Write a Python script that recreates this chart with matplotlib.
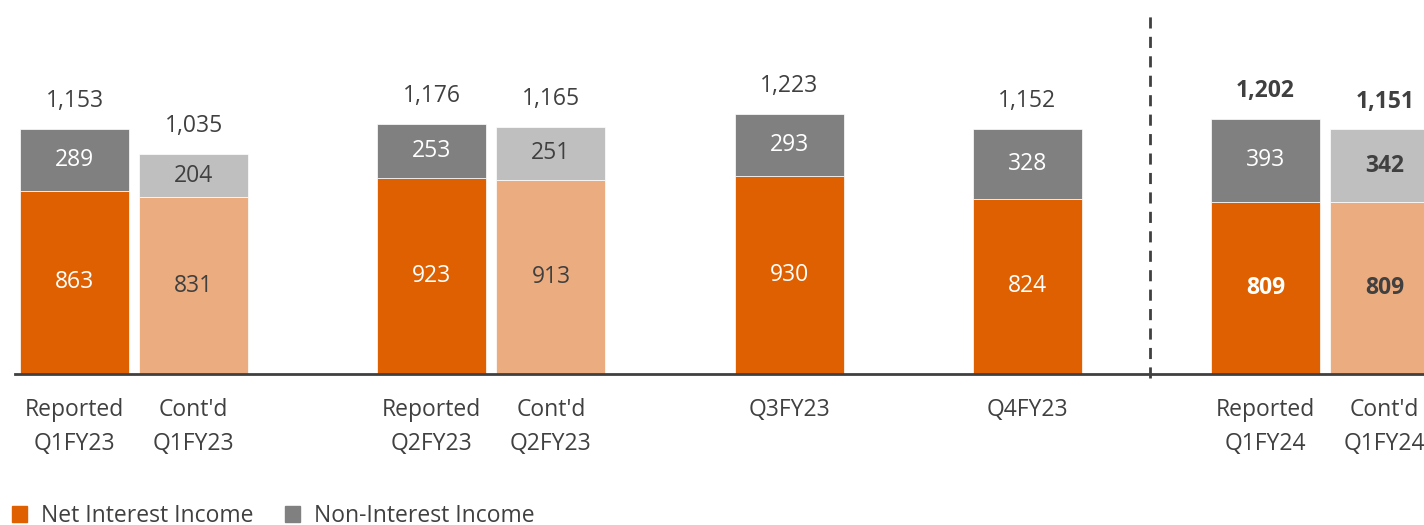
import matplotlib.pyplot as plt
from matplotlib.patches import Patch

plt.rcParams['font.family'] = ['Open Sans', 'DejaVu Sans']

categories = ["Reported\nQ1FY23", "Cont'd\nQ1FY23", "Reported\nQ2FY23", "Cont'd\nQ2FY23",
              "Q3FY23", "Q4FY23", "Reported\nQ1FY24", "Cont'd\nQ1FY24"]
positions = [0, 1, 3, 4, 6, 8, 10, 11]
net_interest = [863, 831, 923, 913, 930, 824, 809, 809]
non_interest = [289, 204, 253, 251, 293, 328, 393, 342]
totals = [1153, 1035, 1176, 1165, 1223, 1152, 1202, 1151]
continued = [False, True, False, True, False, False, False, True]
bold_nii = [False, False, False, False, False, False, True, True]
bold_noi = [False, False, False, False, False, False, False, True]
bold_tot = [False, False, False, False, False, False, True, True]

ORANGE = "#DE6000"
ORANGE_LT = "#EBAD80"
GRAY = "#808080"
GRAY_LT = "#BFBFBF"
TXT = "#404040"

fig = plt.figure(figsize=(14.24, 5.25), dpi=100)
ax = fig.add_axes([15 / 1424, 1 - 374 / 525, 1 - 15 / 1424, 374 / 525])

width = 0.915
fs = 16.5
for i, x in enumerate(positions):
    nii, noi, tot, cont = net_interest[i], non_interest[i], totals[i], continued[i]
    c1 = ORANGE_LT if cont else ORANGE
    c2 = GRAY_LT if cont else GRAY
    ax.bar(x, nii, width, color=c1, edgecolor="white", linewidth=0.5)
    ax.bar(x, noi, width, bottom=nii, color=c2, edgecolor="white", linewidth=0.5)
    tc = TXT if cont else "white"
    ax.text(x, nii / 2, f"{nii}", ha="center", va="center", color=tc, fontsize=fs,
            fontweight="bold" if bold_nii[i] else "normal")
    ax.text(x, nii + noi / 2, f"{noi}", ha="center", va="center", color=tc, fontsize=fs,
            fontweight="bold" if bold_noi[i] else "normal")
    ax.annotate(f"{tot:,}", (x, tot), xytext=(0, 20), textcoords="offset points",
                ha="center", va="center", color=TXT, fontsize=fs,
                fontweight="bold" if bold_tot[i] else "normal")

ax.set_xlim(-0.5, 11.33)
ax.set_ylim(0, 374 / 0.2125)
ax.set_xticks(positions)
ax.set_xticklabels(categories, fontsize=fs, color=TXT, linespacing=1.55)
ax.tick_params(axis="x", length=0, pad=17)
ax.set_yticks([])
for s in ["top", "left", "right"]:
    ax.spines[s].set_visible(False)
ax.spines["bottom"].set_color(TXT)
ax.spines["bottom"].set_linewidth(2)

ax.axvline(9.03, ymin=-0.01, ymax=(374 - 10) / 374, color=TXT, linestyle=(0, (4, 3)),
           linewidth=2, clip_on=False)

handles = [Patch(color=ORANGE, label="Net Interest Income"),
           Patch(color=GRAY, label="Non-Interest Income")]
fig.legend(handles=handles, loc="center left", bbox_to_anchor=(0.002, 9 / 525), ncol=2,
           frameon=False, fontsize=fs, handlelength=0.65, handleheight=0.65,
           handletextpad=0.6, columnspacing=1.4, labelcolor=TXT, borderaxespad=0)

fig.savefig("out.png", dpi=100)
